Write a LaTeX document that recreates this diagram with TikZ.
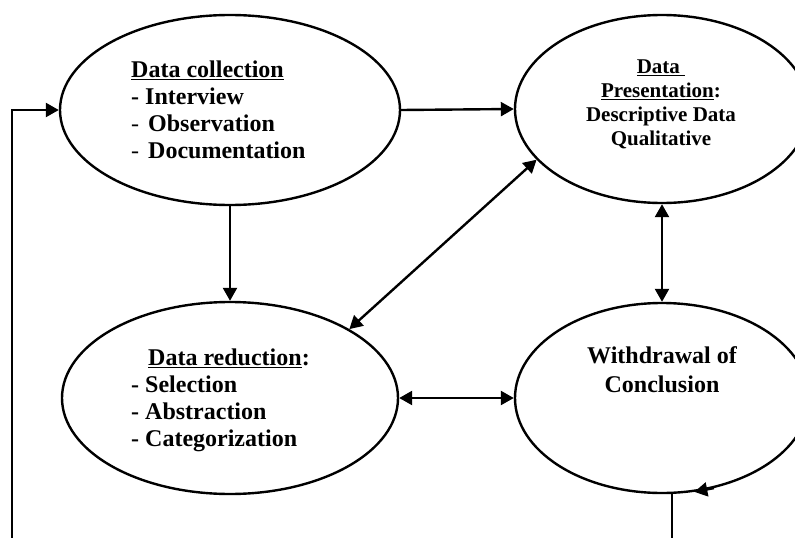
\documentclass[tikz,border=0pt]{standalone}
\usepackage{fontspec}
\setmainfont{Liberation Serif}
\usetikzlibrary{shapes.geometric,arrows.meta}
\newcommand\myul[1]{\setbox0\hbox{#1}\rlap{\rule[-3.2pt]{\wd0}{1.6pt}}\box0}
\begin{document}
\begin{tikzpicture}[x=1pt,y=-1pt]
\tikzset{
  stage/.style={draw, ellipse, line width=2.4pt, inner sep=0pt},
  conn/.style={line width=2.4pt, -{Triangle[length=13pt,width=14pt]}},
  both/.style={line width=2.4pt, {Triangle[length=13pt,width=14pt]}-{Triangle[length=13pt,width=14pt]}},
  plain/.style={line width=2.4pt},
  lt/.style={font=\fontsize{24}{27}\selectfont\bfseries, inner sep=0pt, anchor=base west},
  ct/.style={font=\fontsize{24}{29}\selectfont\bfseries, inner sep=0pt, anchor=base},
  pt/.style={font=\fontsize{21}{24}\selectfont\bfseries, inner sep=0pt, anchor=base}
}
\useasboundingbox (0,0) rectangle (795,538);

% ellipses
\node[stage, minimum width=340pt, minimum height=190pt] (col) at (230,110) {};
\node[stage, minimum width=294pt, minimum height=188pt] (pres) at (662,109) {};
\node[stage, minimum width=336pt, minimum height=192pt] (red) at (230,398) {};
\node[stage, minimum width=294pt, minimum height=190pt] (conc) at (662,398) {};

% texts: data collection
\node[lt] (c1) at (131,77) {\myul{Data collection}};
\node[lt] (c2) at (131,104) {- Interview};
\node[lt] (c3) at (131,131) {{\mdseries -}\hspace{9pt}Observation};
\node[lt] (c4) at (131,158) {{\mdseries -}\hspace{9pt}Documentation};

% data presentation
\node[pt] (p1) at (661,73) {\myul{Data\ }};
\node[pt] (p2) at (661,97) {\myul{Presentation}:};
\node[pt] (p3) at (661,121.5) {Descriptive Data};
\node[pt] (p4) at (661,145.5) {Qualitative};

% data reduction
\node[lt] (r1) at (148,365) {\myul{Data reduction}:};
\node[lt] (r2) at (131,392) {- Selection};
\node[lt] (r3) at (131,419) {- Abstraction};
\node[lt] (r4) at (131,446) {- Categorization};

% conclusion
\node[ct] (w1) at (662,363) {Withdrawal of};
\node[ct] (w2) at (662,392) {Conclusion};

% connectors
\draw[conn] (col.east) -- (pres.west);
\draw[conn] (col.south) -- (red.north);
\draw[both] (pres.south) -- (conc.north);
\draw[both] (red.30) -- (pres.202);
\draw[both] (red.east) -- (conc.west);

% feedback loop
\coordinate (fbR) at (672,540);
\coordinate (fbL) at (12,540);
\draw[plain] (fbR) -- (fbR |- conc.south);
\draw[conn] (fbL) |- (col.west);
\draw[conn] (conc.-60) -- (conc.-71);
\end{tikzpicture}
\end{document}
